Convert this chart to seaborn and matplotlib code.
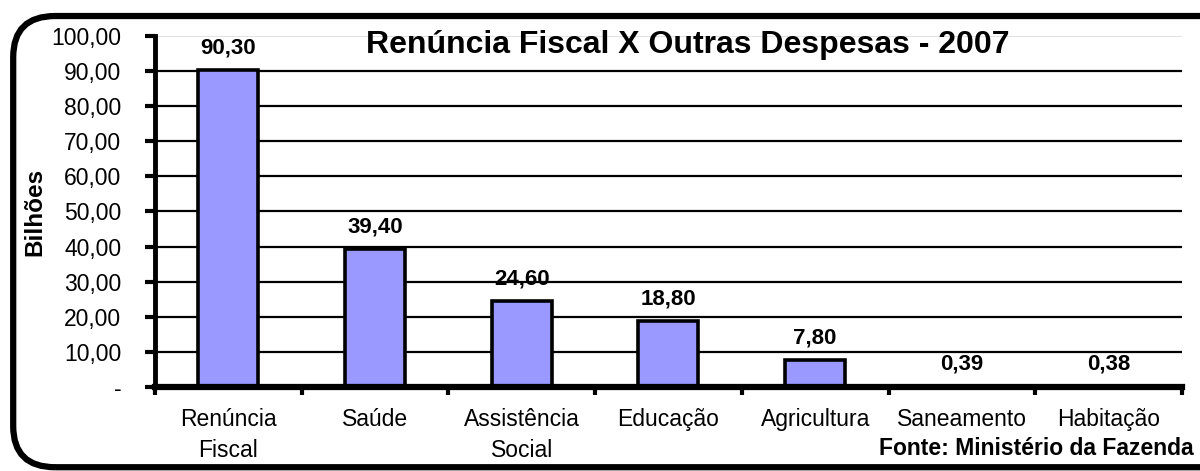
import matplotlib
matplotlib.use("Agg")
import matplotlib.pyplot as plt
import seaborn as sns
import pandas as pd
from matplotlib.patches import FancyBboxPatch
from matplotlib.ticker import FixedLocator, FuncFormatter

categories = ["Renúncia\nFiscal", "Saúde", "Assistência\nSocial", "Educação",
              "Agricultura", "Saneamento", "Habitação"]
values = [90.30, 39.40, 24.60, 18.80, 7.80, 0.39, 0.38]
value_labels = ["90,30", "39,40", "24,60", "18,80", "7,80", "0,39", "0,38"]
y_ticks = [0, 10, 20, 30, 40, 50, 60, 70, 80, 90, 100]

title = "Renúncia Fiscal X Outras Despesas - 2007"
y_label = "Bilhões"
source = "Fonte: Ministério da Fazenda"

df = pd.DataFrame({"categoria": categories, "valor": values})

sns.set_theme(style="white")
plt.rcParams["font.family"] = ["Liberation Sans", "DejaVu Sans"]
plt.rcParams["text.color"] = "black"
plt.rcParams["axes.labelcolor"] = "black"
plt.rcParams["xtick.color"] = "black"
plt.rcParams["ytick.color"] = "black"

fig = plt.figure(figsize=(12, 4.71), dpi=100)
ax = fig.add_axes([0.129, 0.178, 0.856, 0.746])

# rounded outer frame
frame = FancyBboxPatch((0.011, 0.008), 1.05, 0.958, boxstyle="round,pad=0,rounding_size=0.035",
                       transform=fig.transFigure, fill=False, edgecolor="black",
                       linewidth=4.5, mutation_aspect=2.5, clip_on=False)
fig.patches.append(frame)

# grid lines first so bars sit on top
for v in y_ticks[1:-1]:
    ax.axhline(v, color="black", linewidth=1.6, zorder=0)
ax.axhline(100, color="#dddddd", linewidth=1.2, zorder=0)

sns.barplot(data=df, x="categoria", y="valor", color="#9999ff", saturation=1,
            edgecolor="black", linewidth=2.6, width=0.41, ax=ax, zorder=2)

ax.bar_label(ax.containers[0], labels=value_labels, padding=8,
             fontsize=16, fontweight="bold", color="black")

ax.set_ylim(0, 100)
ax.set_xlim(-0.5, len(categories) - 0.5)
ax.yaxis.set_major_locator(FixedLocator(y_ticks))
ax.yaxis.set_major_formatter(FuncFormatter(
    lambda v, p: "-" if v == 0 else f"{v:.2f}".replace(".", ",")))

# x ticks sit between categories
ax.set_xticks(range(len(categories)))
ax.set_xticklabels(categories, fontsize=16.5, linespacing=1.45)
ax.set_xticks([i + 0.5 for i in range(-1, len(categories))], minor=True)
ax.tick_params(axis="x", which="major", length=0, pad=15)
ax.tick_params(axis="x", which="minor", length=6, width=3, direction="out",
               color="black", bottom=True)
ax.tick_params(axis="y", length=7, width=3, direction="out", color="black",
               labelsize=16.5, pad=17, left=True)

for s in ["top", "right"]:
    ax.spines[s].set_visible(False)
ax.spines["left"].set_linewidth(3.5)
ax.spines["left"].set_color("black")
ax.spines["bottom"].set_linewidth(4.5)
ax.spines["bottom"].set_color("black")
ax.set_facecolor("white")

ax.set_xlabel("")
ax.set_ylabel(y_label, fontsize=17.5, fontweight="bold", labelpad=4)

fig.text(0.573, 0.905, title, ha="center", va="center",
         fontsize=23, fontweight="bold")
fig.text(0.995, 0.048, source, ha="right", va="center",
         fontsize=16.5, fontweight="bold")

fig.savefig("out.png", dpi=100)
